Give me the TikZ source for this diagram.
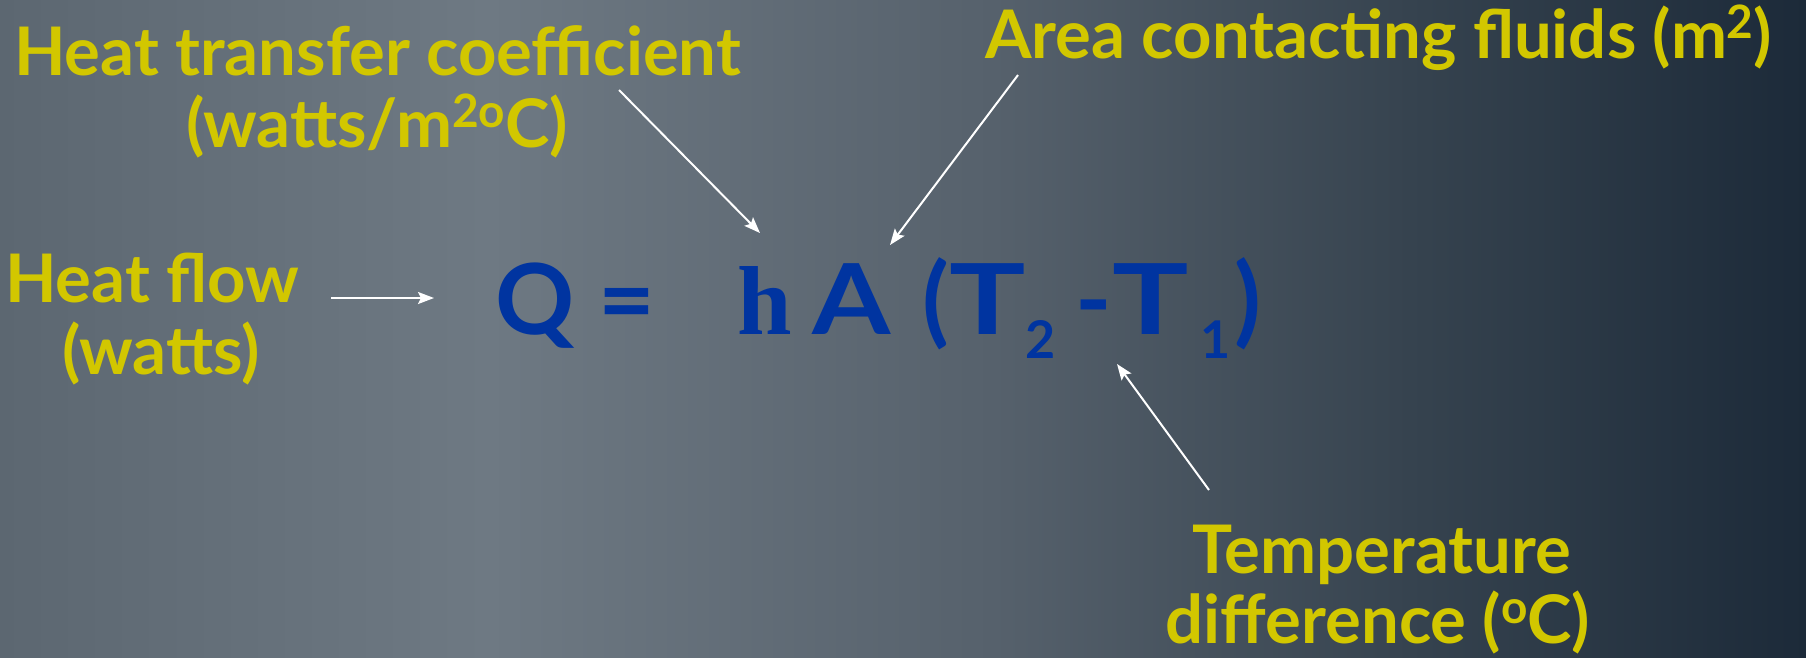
\documentclass[tikz,border=0pt]{standalone}
\usepackage{fontspec}
\setmainfont{Lato}
\newfontfamily\hfont{Liberation Serif}
\usetikzlibrary{arrows.meta}
\definecolor{lab}{HTML}{D2C700}
\definecolor{eqc}{HTML}{0034A0}
\definecolor{bgA}{HTML}{5C6771}
\definecolor{bgB}{HTML}{6E7983}
\definecolor{bgC}{HTML}{56616C}
\definecolor{bgD}{HTML}{36434F}
\definecolor{bgE}{HTML}{1C2A39}
\pgfdeclarehorizontalshading{bgshade}{100bp}{color(0bp)=(bgA); color(25bp)=(bgA); color(38.5bp)=(bgB); color(52.5bp)=(bgC); color(64bp)=(bgD); color(75bp)=(bgE); color(100bp)=(bgE)}
\newcommand{\mysup}[1]{\raisebox{20pt}{\fontsize{46}{46}\selectfont #1}}
\newcommand{\mysub}[1]{\raisebox{-24pt}{\fontsize{52}{52}\selectfont #1}}
\begin{document}
\begin{tikzpicture}[x=1pt,y=-1pt,
  lbl/.style={text=lab,font=\fontsize{67}{72}\selectfont\bfseries,inner sep=0pt},
  eqn/.style={text=eqc,font=\fontsize{98}{100}\selectfont\bfseries,inner sep=0pt},
  arr/.style={draw=white,line width=2pt,-{Stealth[length=16pt,width=12pt,inset=3pt]}}]
\useasboundingbox (0,0) rectangle (1806,657);
\shade[shading=bgshade] (0,0) rectangle (1806,657);
% labels
\node[lbl,anchor=base west] (htc) at (14,75) {Heat transfer coefficient};
\node[lbl,anchor=base] (htcu) at (377,147) {(watts/m\mysup{2o}C)};
\node[lbl,anchor=base west] (area) at (985,58) {Area contacting fluids (m\mysup{2})};
\node[lbl,anchor=base] (hf1) at (152,302) {Heat flow};
\node[lbl,anchor=base] (hf2) at (161,374) {(watts)};
\node[lbl,anchor=base] (td1) at (1382,573) {Temperature};
\node[lbl,anchor=base] (td2) at (1378,643) {difference (\mysup{o}C)};
% equation
\node[eqn,anchor=base west] (Q) at (495,334) {Q =};
\node[eqn,anchor=base west,font=\fontsize{98}{100}\selectfont\hfont\bfseries] (h) at (737,334) {h};
\node[eqn,anchor=base west] (A) at (812,334) {\scalebox{1.15}[1]{A}};
\node[eqn,anchor=base west] (T) at (922,334) {(\scalebox{1.3}[1]{T}\mysub{2}\hspace{20pt}-\scalebox{1.3}[1]{T}\hspace{12pt}\mysub{1}\hspace{4pt})};
% arrow ends
\coordinate (hfS) at (331,298);
\coordinate (hfE) at (434,298);
\coordinate (hS) at (619,90);
\coordinate (hE) at (760,233);
\coordinate (aS) at (1018,75);
\coordinate (aE) at (890,245);
\coordinate (tS) at (1209,490);
\coordinate (tE) at (1117,364);
\draw[arr] (hfS) -- (hfE);
\draw[arr] (hS) -- (hE);
\draw[arr] (aS) -- (aE);
\draw[arr] (tS) -- (tE);
\end{tikzpicture}
\end{document}
